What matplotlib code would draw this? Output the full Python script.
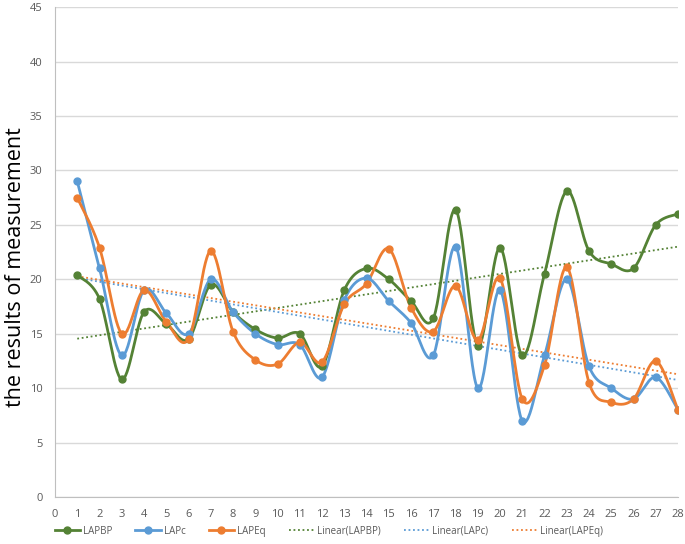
import numpy as np
import matplotlib
matplotlib.use("Agg")
from matplotlib import pyplot as plt

plt.rcParams['font.family'] = ['Open Sans', 'DejaVu Sans']

x = np.arange(1, 29)
lapbp = [20.4, 18.2, 10.8, 17.0, 15.9, 14.5, 19.5, 17.0, 15.4, 14.6, 15.0, 12.0, 19.0, 21.0,
         20.0, 18.0, 16.4, 26.4, 13.9, 22.9, 13.0, 20.5, 28.1, 22.6, 21.4, 21.0, 25.0, 26.0]
lapc = [29.0, 21.0, 13.0, 19.0, 16.9, 15.0, 20.0, 17.0, 15.0, 14.0, 14.0, 11.0, 18.1, 20.1,
        18.0, 16.0, 13.0, 23.0, 10.0, 19.0, 7.0, 13.0, 20.0, 12.0, 10.0, 9.0, 11.0, 8.0]
lapeq = [27.5, 22.9, 15.0, 19.0, 16.1, 14.5, 22.6, 15.2, 12.6, 12.2, 14.2, 12.4, 17.7, 19.6,
         22.8, 17.4, 15.2, 19.4, 14.4, 20.1, 9.0, 12.1, 21.1, 10.5, 8.7, 9.0, 12.5, 8.0]
names = ['LAPBP', 'LAPc', 'LAPEq']
colors = ['#548235', '#5B9BD5', '#ED7D31']


def smooth(xs, ys, n=30):
    # Catmull-Rom spline through the points, like Excel's smoothed line
    xs = np.asarray(xs, float)
    ys = np.asarray(ys, float)
    px = np.concatenate([[xs[0]], xs, [xs[-1]]])
    py = np.concatenate([[ys[0]], ys, [ys[-1]]])
    ox, oy = [], []
    t = np.linspace(0, 1, n)
    for i in range(1, len(px) - 2):
        for arr, out in ((px, ox), (py, oy)):
            p0, p1, p2, p3 = arr[i - 1], arr[i], arr[i + 1], arr[i + 2]
            m1 = (p2 - p0) / 2
            m2 = (p3 - p1) / 2
            h00 = 2 * t**3 - 3 * t**2 + 1
            h10 = t**3 - 2 * t**2 + t
            h01 = -2 * t**3 + 3 * t**2
            h11 = t**3 - t**2
            out.extend(h00 * p1 + h10 * m1 + h01 * p2 + h11 * m2)
    return np.array(ox), np.array(oy)


fig = plt.figure(figsize=(6.85, 5.44), dpi=100)
ax = fig.add_axes([0.0803, 0.0864, 0.9095, 0.9006])

handles = []
for ys, name, c in zip([lapbp, lapc, lapeq], names, colors):
    sx, sy = smooth(x, ys)
    ax.plot(sx, sy, color=c, lw=2, zorder=3)
    ax.plot(x, ys, 'o', color=c, ms=5, zorder=4)
    h, = ax.plot([], [], '-o', color=c, lw=2, ms=5, label=name)
    handles.append(h)

for ys, name, c in zip([lapbp, lapc, lapeq], names, colors):
    k, b = np.polyfit(x, ys, 1)
    h, = ax.plot(x, k * x + b, ls=(0, (1, 1.5)), color=c, lw=1.3, zorder=2,
                 label='Linear(%s)' % name)
    handles.append(h)

ax.set_xlim(0, 28)
ax.set_ylim(0, 45)
ax.set_xticks(range(0, 29))
ax.set_yticks(range(0, 46, 5))
ax.grid(axis='y', color='#d9d9d9', lw=1)
ax.set_axisbelow(True)
for s in ['top', 'right']:
    ax.spines[s].set_visible(False)
for s in ['left', 'bottom']:
    ax.spines[s].set_color('#bfbfbf')
ax.tick_params(length=0, labelsize=8, colors='#595959', pad=9)
ax.set_ylabel('the results of measurement', fontsize=15.5, color='black')
ax.yaxis.set_label_coords(-0.047, 0.47)

fig.legend(handles=handles, loc='lower center', ncol=6, frameon=False, fontsize=7,
           labelcolor='#595959', bbox_to_anchor=(0.48, -0.003), handlelength=2.6,
           handletextpad=0.3, columnspacing=2.4)

fig.savefig('out.png', dpi=100)
